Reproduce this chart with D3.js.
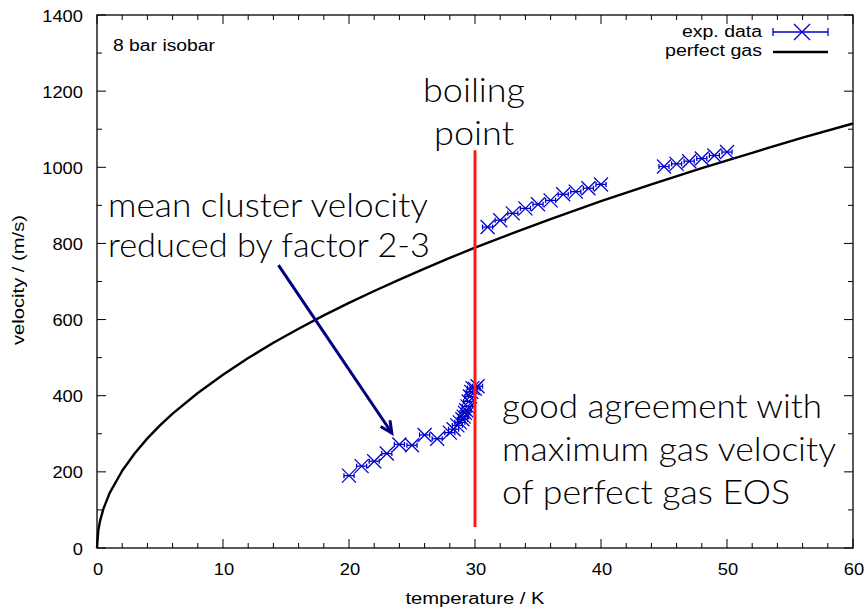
<!DOCTYPE html>
<html>
<head>
<meta charset="utf-8">
<script src="https://cdn.jsdelivr.net/npm/d3@7"></script>
<style>
  html, body { margin: 0; padding: 0; background: #fff; }
  svg { display: block; }
  .tick-label { font-family: "Liberation Sans", Arial, sans-serif; font-size: 17px; fill: #000; }
  .axis-title { font-family: "Liberation Sans", Arial, sans-serif; font-size: 16px; fill: #000; }
  .note { font-family: Lato, "Open Sans", sans-serif; font-weight: 300; font-size: 34px; fill: #000; }
</style>
</head>
<body>
<svg id="chart" width="868" height="609"></svg>
<script>
// Measured mean velocities along the 8 bar isobar (temperature K, velocity m/s)
const lowT   = [20, 21, 22, 23, 24, 25, 26, 27, 28, 28.3, 28.6, 28.8, 29.0, 29.1, 29.2, 29.3, 29.4, 29.5, 29.6, 29.7, 29.8, 30.0, 30.2];
const lowV   = [190, 215, 228, 248, 272, 270, 297, 287, 303, 312, 322, 330, 338, 345, 355, 362, 372, 385, 398, 410, 420, 418, 425];
const midT   = [31, 32, 33, 34, 35, 36, 37, 38, 39, 40];
const midV   = [843, 861, 879, 892, 903, 913, 929, 936, 945, 955];
const highT  = [45, 46, 47, 48, 49, 50];
const highV  = [1002, 1009, 1016, 1023, 1031, 1040];
const tempErr = 0.4;

// Perfect gas maximum velocity curve (temperature K, velocity m/s)
const gasT = [0, 0.1, 0.25, 0.5, 1, 2, 3, 4, 5, 6, 8, 10, 12, 14, 16, 18, 20, 22, 24, 26, 28, 30, 33, 36, 40, 44, 48, 52, 56, 60];
const gasV = [0, 46, 72, 102, 144, 203, 249, 288, 322, 353, 407, 455, 499, 539, 576, 611, 644, 675, 705, 734, 762, 789, 827, 864, 911, 955, 998, 1038, 1078, 1115];

// Axis ticks
const xMajor = [0, 10, 20, 30, 40, 50, 60];
const yMajor = [0, 200, 400, 600, 800, 1000, 1200, 1400];

// Annotations
const boilingT = 30;
const boilingRange = [55, 1045];
const arrowFrom = [14.4, 743];
const arrowTo = [23.4, 302];

const svg = d3.select("#chart");
const plotL = 97, plotR = 853, plotT = 15, plotB = 548;

const x = d3.scaleLinear().domain([0, 60]).range([plotL, plotR]);
const y = d3.scaleLinear().domain([0, 1400]).range([plotB, plotT]);

const blue = "#0000cc";

// Frame
svg.append("rect")
  .attr("x", plotL).attr("y", plotT)
  .attr("width", plotR - plotL).attr("height", plotB - plotT)
  .attr("fill", "none").attr("stroke", "#000").attr("stroke-width", 1.3);

// Inward ticks on all four sides
const xMinor = d3.range(0, 61, 2);
const yMinor = d3.range(0, 1401, 100);
const tickG = svg.append("g").attr("stroke", "#000").attr("stroke-width", 1);
xMinor.forEach(v => {
  const len = xMajor.includes(v) ? 9 : 5;
  tickG.append("line").attr("x1", x(v)).attr("x2", x(v)).attr("y1", plotB).attr("y2", plotB - len);
  tickG.append("line").attr("x1", x(v)).attr("x2", x(v)).attr("y1", plotT).attr("y2", plotT + len);
});
yMinor.forEach(v => {
  const len = yMajor.includes(v) ? 9 : 5;
  tickG.append("line").attr("y1", y(v)).attr("y2", y(v)).attr("x1", plotL).attr("x2", plotL + len);
  tickG.append("line").attr("y1", y(v)).attr("y2", y(v)).attr("x1", plotR).attr("x2", plotR - len);
});

// Tick labels
svg.append("g").selectAll("text").data(xMajor).join("text")
  .attr("class", "tick-label")
  .attr("x", d => x(d) + 1).attr("y", plotB + 27)
  .attr("text-anchor", "middle")
  .attr("textLength", d => String(d).length * 10.2).attr("lengthAdjust", "spacingAndGlyphs")
  .text(d => d);
svg.append("g").selectAll("text").data(yMajor).join("text")
  .attr("class", "tick-label")
  .attr("x", plotL - 14).attr("y", d => y(d) + 6.5)
  .attr("text-anchor", "end")
  .attr("textLength", d => String(d).length * 10.2).attr("lengthAdjust", "spacingAndGlyphs")
  .text(d => d);

// Axis titles
svg.append("text").attr("class", "axis-title")
  .attr("x", 475).attr("y", 604)
  .attr("text-anchor", "middle")
  .attr("textLength", 139).attr("lengthAdjust", "spacingAndGlyphs")
  .text("temperature / K");
svg.append("text").attr("class", "axis-title")
  .attr("transform", `translate(24,280) rotate(-90)`)
  .attr("text-anchor", "middle")
  .attr("textLength", 130).attr("lengthAdjust", "spacingAndGlyphs")
  .text("velocity / (m/s)");

// Isobar label
svg.append("text").attr("class", "axis-title")
  .attr("x", 113).attr("y", 51)
  .attr("textLength", 102).attr("lengthAdjust", "spacingAndGlyphs")
  .text("8 bar isobar");

// Perfect gas curve
const gasLine = d3.line().x(d => x(d[0])).y(d => y(d[1]));
svg.append("path")
  .datum(gasT.map((t, i) => [t, gasV[i]]))
  .attr("d", gasLine)
  .attr("fill", "none").attr("stroke", "#000").attr("stroke-width", 2.4)
  .attr("stroke-linejoin", "round");

// Data points with temperature error bars and cross markers
function drawPoint(g, cx, cy, xl, xr, arm, cap) {
  g.append("line").attr("x1", xl).attr("x2", xr).attr("y1", cy).attr("y2", cy);
  g.append("line").attr("x1", xl).attr("x2", xl).attr("y1", cy - cap).attr("y2", cy + cap);
  g.append("line").attr("x1", xr).attr("x2", xr).attr("y1", cy - cap).attr("y2", cy + cap);
  g.append("line").attr("x1", cx - arm).attr("x2", cx + arm).attr("y1", cy - arm).attr("y2", cy + arm);
  g.append("line").attr("x1", cx - arm).attr("x2", cx + arm).attr("y1", cy + arm).attr("y2", cy - arm);
}
const pts = svg.append("g").attr("stroke", blue).attr("stroke-width", 1.3);
[[lowT, lowV], [midT, midV], [highT, highV]].forEach(([ts, vs]) => {
  ts.forEach((t, i) => {
    drawPoint(pts, x(t), y(vs[i]), x(t - tempErr), x(t + tempErr), 7, 2.5);
  });
});

// Boiling point marker
svg.append("line")
  .attr("x1", x(boilingT)).attr("x2", x(boilingT))
  .attr("y1", y(boilingRange[0])).attr("y2", y(boilingRange[1]))
  .attr("stroke", "#ff1a1a").attr("stroke-width", 3);

// Arrow
const ax1 = x(arrowFrom[0]), ay1 = y(arrowFrom[1]);
const ax2 = x(arrowTo[0]), ay2 = y(arrowTo[1]);
const ang = Math.atan2(ay2 - ay1, ax2 - ax1);
const headLen = 13, headAng = Math.PI / 7;
const arrowG = svg.append("g").attr("stroke", "#000080").attr("stroke-width", 3)
  .attr("fill", "none").attr("stroke-linecap", "butt");
arrowG.append("line").attr("x1", ax1).attr("y1", ay1).attr("x2", ax2).attr("y2", ay2);
arrowG.append("path")
  .attr("d", `M${ax2 - headLen * Math.cos(ang - headAng)},${ay2 - headLen * Math.sin(ang - headAng)}` +
             `L${ax2},${ay2}` +
             `L${ax2 - headLen * Math.cos(ang + headAng)},${ay2 - headLen * Math.sin(ang + headAng)}`);

// Legend
const legX0 = 773, legX1 = 828;
svg.append("text").attr("class", "axis-title")
  .attr("x", 762).attr("y", 37).attr("text-anchor", "end")
  .attr("textLength", 80).attr("lengthAdjust", "spacingAndGlyphs")
  .text("exp. data");
svg.append("text").attr("class", "axis-title")
  .attr("x", 762).attr("y", 56).attr("text-anchor", "end")
  .attr("textLength", 97).attr("lengthAdjust", "spacingAndGlyphs")
  .text("perfect gas");
const legG = svg.append("g").attr("stroke", blue).attr("stroke-width", 1.3);
drawPoint(legG, 802, 32, legX0, legX1, 8, 4);
svg.append("line").attr("x1", legX0).attr("x2", legX1).attr("y1", 52).attr("y2", 52)
  .attr("stroke", "#000").attr("stroke-width", 2.4);

// Text notes
function note(lines, xs, ys, widths, anchor) {
  lines.forEach((s, i) => {
    svg.append("text").attr("class", "note")
      .attr("x", xs[i]).attr("y", ys[i])
      .attr("text-anchor", anchor)
      .attr("textLength", widths[i]).attr("lengthAdjust", "spacingAndGlyphs")
      .text(s);
  });
}
note(["boiling", "point"], [474, 474], [102, 145], [102, 80], "middle");
note(["mean cluster velocity", "reduced by factor 2-3"], [108, 108], [217, 257], [320, 322], "start");
note(["good agreement with", "maximum gas velocity", "of perfect gas EOS"],
     [502, 502, 502], [418, 461, 504], [320, 334, 288], "start");
</script>
</body>
</html>
